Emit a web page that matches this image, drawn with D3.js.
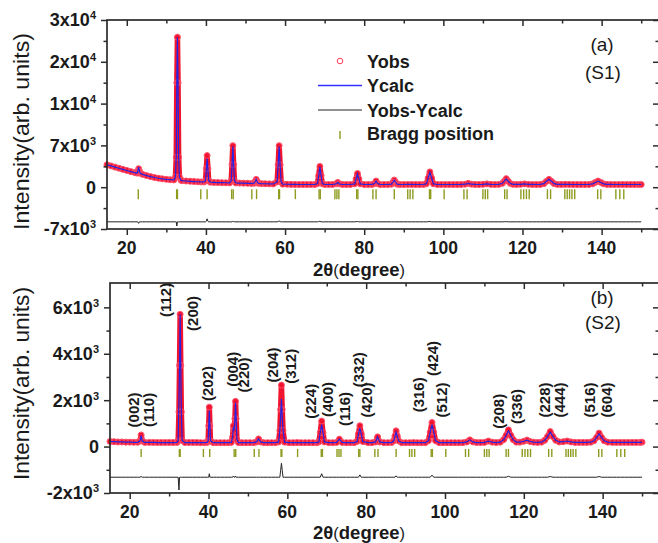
<!DOCTYPE html>
<html><head><meta charset="utf-8">
<script src="https://cdn.jsdelivr.net/npm/d3@7"></script>
<style>
body{margin:0;background:#fff}
svg{display:block}
text{font-family:Arial,"Liberation Sans",sans-serif;fill:#1a1a1a}
</style></head>
<body><svg id="c" width="658" height="543"></svg>
<script>
// ---------------- DATA ----------------
const xMajor = [20, 40, 60, 80, 100, 120, 140];
const xMinor = [30, 50, 70, 90, 110, 130, 150];
const xTickLabels = ["20", "40", "60", "80", "100", "120", "140"];

const S1_yTicks = [-7000, 0, 7000, 10000, 20000, 30000];
const S1_yMinor = [-3500, 3500, 8500, 15000, 25000];
const S1_yTickLabels = ["-7x10^3", "0", "7x10^3", "1x10^4", "2x10^4", "3x10^4"];

const S2_yTicks = [-2000, 0, 2000, 4000, 6000];
const S2_yMinor = [-1000, 1000, 3000, 5000];
const S2_yTickLabels = ["-2x10^3", "0", "2x10^3", "4x10^3", "6x10^3"];

const braggPositions = [22.9, 32.6, 32.8, 38.7, 40.3, 46.5, 46.9, 51.6, 52.8, 58.4, 58.6, 62.6,
  68.6, 68.9, 72.6, 73.1, 73.6, 78.1, 78.4, 82.2, 83.0, 87.6, 91.0, 91.6, 92.3, 96.5, 96.8,
  100.2, 105.2, 106.0, 110.0, 110.6, 111.2, 115.5, 116.1, 119.6, 120.3, 121.0, 121.7,
  126.3, 127.1, 130.7, 131.3, 131.9, 132.5, 133.2, 139.0, 139.8, 143.6, 144.6, 145.6];

// Sample S1
const S1_2theta = [15,16,17,18,19,20,21,22,22.6,22.8,23.0,23.2,23.4,
 24,25,26,27,28,29,30,31,31.9,
 32.3,32.5,32.65,32.8,32.95,33.1,33.3,33.7,
 34,35,36,37,38,38.8,39.5,
 39.9,40.1,40.3,40.5,40.7,41.1,
 42,43,44,45,46,
 46.4,46.6,46.8,47.0,47.2,47.6,
 48.5,49.5,50.5,51.5,
 52.2,52.45,52.7,52.95,53.2,
 54,55,56,57,
 58.0,58.25,58.5,58.75,59.0,59.4,
 60.5,61.5,62.5,63.5,64.5,65.5,66.5,67.5,
 68.2,68.5,68.8,69.1,69.4,
 70,71,72,
 72.9,73.3,73.7,
 74.5,75.5,76.5,
 77.6,77.95,78.3,78.65,79.0,
 80,81,82,
 82.6,83.0,83.4,
 84,85,86,
 86.9,87.25,87.6,87.95,88.3,
 89,90,91,92,93,94,95,
 95.7,96.15,96.6,97.05,97.5,
 98.5,99.5,100.5,101.5,102.5,103.5,104.5,105.5,106.3,107.1,108,109,110,111,112,113,
 114,114.9,115.4,115.9,116.4,116.9,117.6,
 118.5,119.5,120.5,121.5,122.5,123.5,124.5,
 125.4,126.0,126.7,127.4,128.0,128.8,
 129.8,130.8,131.8,132.8,133.8,134.8,135.8,136.8,
 137.7,138.4,139.1,139.8,140.5,141.3,
 142.3,143.3,144.3,145.3,146.3,147.3,148.3,149.3,150];
const S1_Yobs = [3750,3560,3370,3180,2990,2800,2620,2450,2350,2700,3100,2700,2330,
 2150,1950,1780,1620,1500,1400,1320,1260,1220,
 1700,5000,15000,25900,15000,5000,1700,1160,
 1100,1040,990,950,910,885,870,
 1100,3100,5300,3100,1100,830,
 800,780,760,745,730,
 1100,3800,6950,3800,1100,710,
 690,670,650,630,
 660,960,1300,960,660,
 600,580,560,540,
 900,3750,6950,3750,900,510,
 490,470,460,450,450,450,450,450,
 600,1950,3480,1950,600,
 450,450,450,
 560,800,560,
 450,450,450,
 560,1380,2300,1380,560,
 450,450,460,
 600,1030,600,
 450,450,450,
 500,830,1200,830,500,
 450,450,460,460,450,450,460,
 560,1500,2560,1500,560,
 450,450,450,450,450,450,460,500,650,500,460,450,480,560,470,450,
 470,650,1000,1430,1000,650,480,
 460,480,560,480,460,450,460,
 600,950,1310,950,600,470,
 460,480,470,450,450,450,450,450,
 560,800,1030,800,560,470,
 460,450,450,450,450,450,450,450,450];
const S1_Ycalc = [3750,3560,3370,3180,2990,2800,2620,2450,2350,2700,3350,2700,2330,
 2150,1950,1780,1620,1500,1400,1320,1260,1220,
 1700,5000,15700,25900,15000,5000,1700,1160,
 1100,1040,990,950,910,885,870,
 1100,3000,4800,3000,1100,830,
 800,780,760,745,730,
 1100,3850,6850,3750,1100,710,
 690,670,650,630,
 660,960,1300,960,660,
 600,580,560,540,
 900,3700,6800,3700,900,510,
 490,470,460,450,450,450,450,450,
 600,1900,3400,1950,600,
 450,450,450,
 560,800,560,
 450,450,450,
 560,1350,2250,1380,560,
 450,450,460,
 600,1030,600,
 450,450,450,
 500,830,1200,830,500,
 450,450,460,460,450,450,460,
 560,1480,2500,1500,560,
 450,450,450,450,450,450,460,500,650,500,460,450,480,560,470,450,
 470,650,980,1400,1000,650,480,
 460,480,560,480,460,450,460,
 600,950,1310,950,600,470,
 460,480,470,450,450,450,450,450,
 560,800,1030,800,560,470,
 460,450,450,450,450,450,450,450,450];

// Sample S2
const S2_2theta = [15,16,17,18,19,20,21,22,22.6,22.9,23.2,
 23.8,25,26,27,28,29,30,31,32,
 32.3,32.5,32.65,32.8,32.95,33.1,33.3,
 34,35,36,37,38,39,39.7,
 39.9,40.05,40.2,40.35,40.5,
 41.2,42,43,44,45,45.8,
 46.1,46.3,46.5,46.7,46.85,47.0,47.2,47.6,
 48.5,49.5,50.5,51.5,
 52.2,52.7,53.2,
 54,55,56,57,
 57.8,58.1,58.3,58.5,58.7,58.9,59.3,
 60.5,61.5,62.5,63.5,64.5,65.5,66.5,67.5,
 68.0,68.35,68.7,69.05,69.4,
 70.5,71.5,72.5,
 73.2,73.9,
 75,76,77,
 77.7,78.05,78.4,78.75,79.1,
 80.5,81.5,
 82.4,82.9,83.4,
 84.5,85.5,86.5,
 87.0,87.3,87.6,87.9,88.2,
 89,90,91,92,93,94,95,
 95.8,96.25,96.7,97.15,97.6,
 98.5,99.5,100.5,101.5,102.5,103.5,104.5,105.5,106.3,107.1,108,109,110,111,112,113,114,
 114.9,115.5,116.1,116.7,117.3,118.1,
 119,120,120.8,121.6,122.5,123.5,124.5,
 125.3,126.0,126.7,127.4,128.1,
 129,130,131,132,133,134,135,136,137,
 137.8,138.5,139.1,139.7,140.4,141.3,
 142.5,143.5,144.5,145.5,146.5,147.5,148.5,149.5,150];
const S2_Yobs = [220,210,200,200,190,190,185,185,240,500,240,
 180,180,180,175,175,175,175,175,180,
 260,1500,3500,5700,3500,1500,260,
 175,175,175,175,170,170,180,
 250,900,1700,900,250,
 170,170,170,170,170,180,
 400,900,700,1200,1950,1200,300,170,
 170,170,170,170,
 200,330,200,
 170,170,170,170,
 200,700,1600,2650,1600,700,190,
 170,170,175,170,170,170,170,170,
 200,600,1100,600,200,
 170,170,180,
 320,180,
 170,170,170,
 220,550,900,550,220,
 170,170,
 200,420,200,
 170,170,180,
 250,450,680,450,250,
 170,170,170,175,170,170,170,
 250,620,1040,620,250,
 170,170,170,170,170,170,170,200,290,200,175,175,180,240,190,175,190,
 300,480,720,480,300,190,
 190,230,280,220,190,180,190,
 270,430,650,430,270,
 200,210,240,200,180,180,180,180,190,
 250,400,580,400,250,190,
 180,180,180,180,180,180,180,180,190];
const S2_Ycalc = [220,210,200,200,190,190,185,185,240,470,240,
 180,180,180,175,175,175,175,175,180,
 260,2050,3500,5700,3500,1500,260,
 175,175,175,175,170,170,180,
 250,900,1550,900,250,
 170,170,170,170,170,180,
 400,850,700,1200,1900,1200,300,170,
 170,170,170,170,
 200,330,200,
 170,170,170,170,
 200,700,1300,2050,1300,700,190,
 170,170,175,170,170,170,170,170,
 200,600,950,600,200,
 170,170,180,
 320,180,
 170,170,170,
 220,550,800,550,220,
 170,170,
 200,420,200,
 170,170,180,
 250,450,620,450,250,
 170,170,170,175,170,170,170,
 250,620,950,620,250,
 170,170,170,170,170,170,170,200,290,200,175,175,180,240,190,175,190,
 300,480,680,480,300,190,
 190,230,280,220,190,180,190,
 270,430,620,430,270,
 200,210,240,200,180,180,180,180,190,
 250,400,550,400,250,190,
 180,180,180,180,180,180,180,180,190];

// hkl annotations for S2 (label centre in data coordinates)
const S2_hklLabels = ["(002)","(110)","(112)","(200)","(202)","(004)","(220)","(204)","(312)","(224)","(400)","(116)",
  "(332)","(420)","(316)","(424)","(512)","(208)","(336)","(228)","(444)","(516)","(604)"];
const S2_hkl2theta = [21.1,24.9,29.2,35.9,39.7,46.1,49.0,56.2,60.9,66.0,70.3,74.6,78.1,80.1,93.3,96.9,99.1,113.7,118.2,125.2,129.2,136.8,141.0];
const S2_hklY = [1580,1580,6320,5740,2720,3330,3090,3520,3460,1950,2030,1620,3310,2010,2230,3800,2010,1520,1730,2010,2010,2010,2010];

const legendLabels = ["Yobs", "Ycalc", "Yobs-Ycalc", "Bragg position"];

// ---------------- DRAWING ----------------
const svg = d3.select("#c");
const AX = "#2b2b2b";
const RED = "#f0142e", BLUE = "#2424e6", OLIVE = "#8e9b1e";

function supLabel(sel, str) {
  const parts = str.split("^");
  sel.append("tspan").text(parts[0]);
  if (parts[1]) sel.append("tspan").attr("dy", -7).attr("font-size", 11).text(parts[1]);
}

function panel(cfg) {
  const g = svg.append("g");
  const x = cfg.x, y = cfg.y;
  const x0 = x.range()[0], x1 = x.range()[1];
  const yr = y.range(); const yb = yr[0], yt = yr[yr.length - 1];
  const line = d3.line().x(d => x(d[0])).y(d => y(d[1]));

  const obsPts = cfg.tt.map((t, i) => [t, cfg.obs[i]]);
  const calcPts = cfg.tt.map((t, i) => [t, cfg.calc[i]]);
  const diffPts = cfg.tt.map((t, i) => [t, cfg.obs[i] - cfg.calc[i] + cfg.diffOffset]);

  // Bragg ticks
  g.append("g").selectAll("line").data(braggPositions).join("line")
    .attr("x1", d => x(d)).attr("x2", d => x(d))
    .attr("y1", y(cfg.braggTop)).attr("y2", y(cfg.braggBot))
    .attr("stroke", OLIVE).attr("stroke-width", 1.4);

  // difference
  g.append("path").attr("d", line(diffPts)).attr("fill", "none")
    .attr("stroke", "#222").attr("stroke-width", 1);

  // observed (dense open circles -> thick band)
  g.append("path").attr("d", line(obsPts)).attr("fill", "none")
    .attr("stroke", RED).attr("stroke-width", 5.5).attr("stroke-linejoin", "round").attr("stroke-linecap", "round");
  g.append("g").selectAll("circle").data(obsPts).join("circle")
    .attr("cx", d => x(d[0])).attr("cy", d => y(d[1])).attr("r", 3)
    .attr("fill", "none").attr("stroke", "#ff4a66").attr("stroke-width", 1);

  // calculated
  g.append("path").attr("d", line(calcPts)).attr("fill", "none")
    .attr("stroke", BLUE).attr("stroke-width", 1.2);

  // axes (ticks only)
  function styleAx(a) { a.select(".domain").remove(); a.selectAll("line").attr("stroke", AX).attr("stroke-width", 1.5); }
  g.append("g").attr("transform", `translate(0,${yb})`).call(d3.axisBottom(x).tickValues(xMajor).tickSize(6).tickFormat("")).call(styleAx);
  g.append("g").attr("transform", `translate(0,${yb})`).call(d3.axisBottom(x).tickValues(xMinor).tickSize(3.5).tickFormat("")).call(styleAx);
  g.append("g").attr("transform", `translate(0,${yt})`).call(d3.axisTop(x).tickValues(xMajor).tickSize(-6).tickFormat("")).call(styleAx);
  g.append("g").attr("transform", `translate(0,${yt})`).call(d3.axisTop(x).tickValues(xMinor).tickSize(-3.5).tickFormat("")).call(styleAx);
  g.append("g").attr("transform", `translate(${x0},0)`).call(d3.axisLeft(y).tickValues(cfg.yTicks).tickSize(6).tickFormat("")).call(styleAx);
  g.append("g").attr("transform", `translate(${x0},0)`).call(d3.axisLeft(y).tickValues(cfg.yMinor).tickSize(3.5).tickFormat("")).call(styleAx);
  g.append("g").attr("transform", `translate(${x1},0)`).call(d3.axisRight(y).tickValues(cfg.yTicks).tickSize(-6).tickFormat("")).call(styleAx);
  g.append("g").attr("transform", `translate(${x1},0)`).call(d3.axisRight(y).tickValues(cfg.yMinor).tickSize(-3.5).tickFormat("")).call(styleAx);

  g.append("rect").attr("x", x0).attr("y", yt).attr("width", x1 - x0).attr("height", yb - yt)
    .attr("fill", "none").attr("stroke", AX).attr("stroke-width", 1.7);

  // x tick labels
  g.append("g").selectAll("text").data(xMajor).join("text")
    .attr("x", d => x(d)).attr("y", yb + 25).attr("text-anchor", "middle")
    .attr("font-size", 17.5).attr("font-weight", "bold").text((d, i) => xTickLabels[i]);

  // y tick labels
  cfg.yTicks.forEach((v, i) => {
    const t = g.append("text").attr("x", x0 - 11).attr("y", y(v)).attr("dy", "0.36em")
      .attr("text-anchor", "end").attr("font-size", 18).attr("font-weight", "bold");
    supLabel(t, cfg.yTickLabels[i]);
  });

  // x title
  const xt = g.append("text").attr("x", 359).attr("y", cfg.xTitleY).attr("text-anchor", "middle")
    .attr("font-size", 18.5).attr("font-weight", "bold");
  xt.append("tspan").text("2θ");
  xt.append("tspan").attr("font-weight", "normal").attr("font-size", 16.5).text("(");
  xt.append("tspan").text("degree");
  xt.append("tspan").attr("font-weight", "normal").attr("font-size", 16.5).text(")");

  // y title
  g.append("text").attr("transform", `translate(28.5,${cfg.yTitleY}) rotate(-90)`)
    .attr("text-anchor", "middle").attr("font-size", 22).attr("textLength", cfg.yTitleLen)
    .attr("lengthAdjust", "spacingAndGlyphs").text("Intensity(arb. units)");

  // panel id
  g.append("text").attr("x", 602).attr("y", cfg.idY[0]).attr("text-anchor", "middle").attr("font-size", 19).text(cfg.id[0]);
  g.append("text").attr("x", 603).attr("y", cfg.idY[1]).attr("text-anchor", "middle").attr("font-size", 19).text(cfg.id[1]);
  return g;
}

// Panel (a)
const xA = d3.scaleLinear().domain([15, 154.5]).range([107, 659]);
const yA = d3.scaleLinear().domain(S1_yTicks).range([229, 187.2, 145.4, 103.6, 61.8, 20]);
const gA = panel({
  x: xA, y: yA, tt: S1_2theta, obs: S1_Yobs, calc: S1_Ycalc, diffOffset: -5800,
  braggTop: -350, braggBot: -2000, yTicks: S1_yTicks, yMinor: S1_yMinor, yTickLabels: S1_yTickLabels,
  xTitleY: 275.5, yTitleY: 131.5, yTitleLen: 197, id: ["(a)", "(S1)"], idY: [51, 79]
});

// legend
const lg = gA.append("g");
lg.append("circle").attr("cx", 340).attr("cy", 61).attr("r", 2.8).attr("fill", "none").attr("stroke", "#ff3a5a").attr("stroke-width", 1);
lg.append("line").attr("x1", 318).attr("x2", 362).attr("y1", 85.5).attr("y2", 85.5).attr("stroke", "#3030ff").attr("stroke-width", 1.4);
lg.append("line").attr("x1", 318).attr("x2", 362).attr("y1", 110).attr("y2", 110).attr("stroke", "#222").attr("stroke-width", 1);
lg.append("line").attr("x1", 340).attr("x2", 340).attr("y1", 131).attr("y2", 139).attr("stroke", OLIVE).attr("stroke-width", 1.4);
const lgY = [68, 92, 116.5, 140];
legendLabels.forEach((s, i) => {
  lg.append("text").attr("x", 367).attr("y", lgY[i]).attr("font-size", 18).attr("font-weight", "bold").text(s);
});

// Panel (b)
const xB = d3.scaleLinear().domain([15, 154.3]).range([110, 659]);
const yB = d3.scaleLinear().domain([-2000, 7050]).range([493, 283]);
const gB = panel({
  x: xB, y: yB, tt: S2_2theta, obs: S2_Yobs, calc: S2_Ycalc, diffOffset: -1320,
  braggTop: -100, braggBot: -450, yTicks: S2_yTicks, yMinor: S2_yMinor, yTickLabels: S2_yTickLabels,
  xTitleY: 538.5, yTitleY: 383.5, yTitleLen: 193, id: ["(b)", "(S2)"], idY: [304, 329]
});

gB.append("g").selectAll("text").data(S2_hklLabels).join("text")
  .attr("transform", (d, i) => `translate(${xB(S2_hkl2theta[i])},${yB(S2_hklY[i])}) rotate(-90)`)
  .attr("dy", "0.35em").attr("text-anchor", "middle").attr("font-size", 15).attr("font-weight", "bold")
  .text(d => d);
</script>
</body></html>
